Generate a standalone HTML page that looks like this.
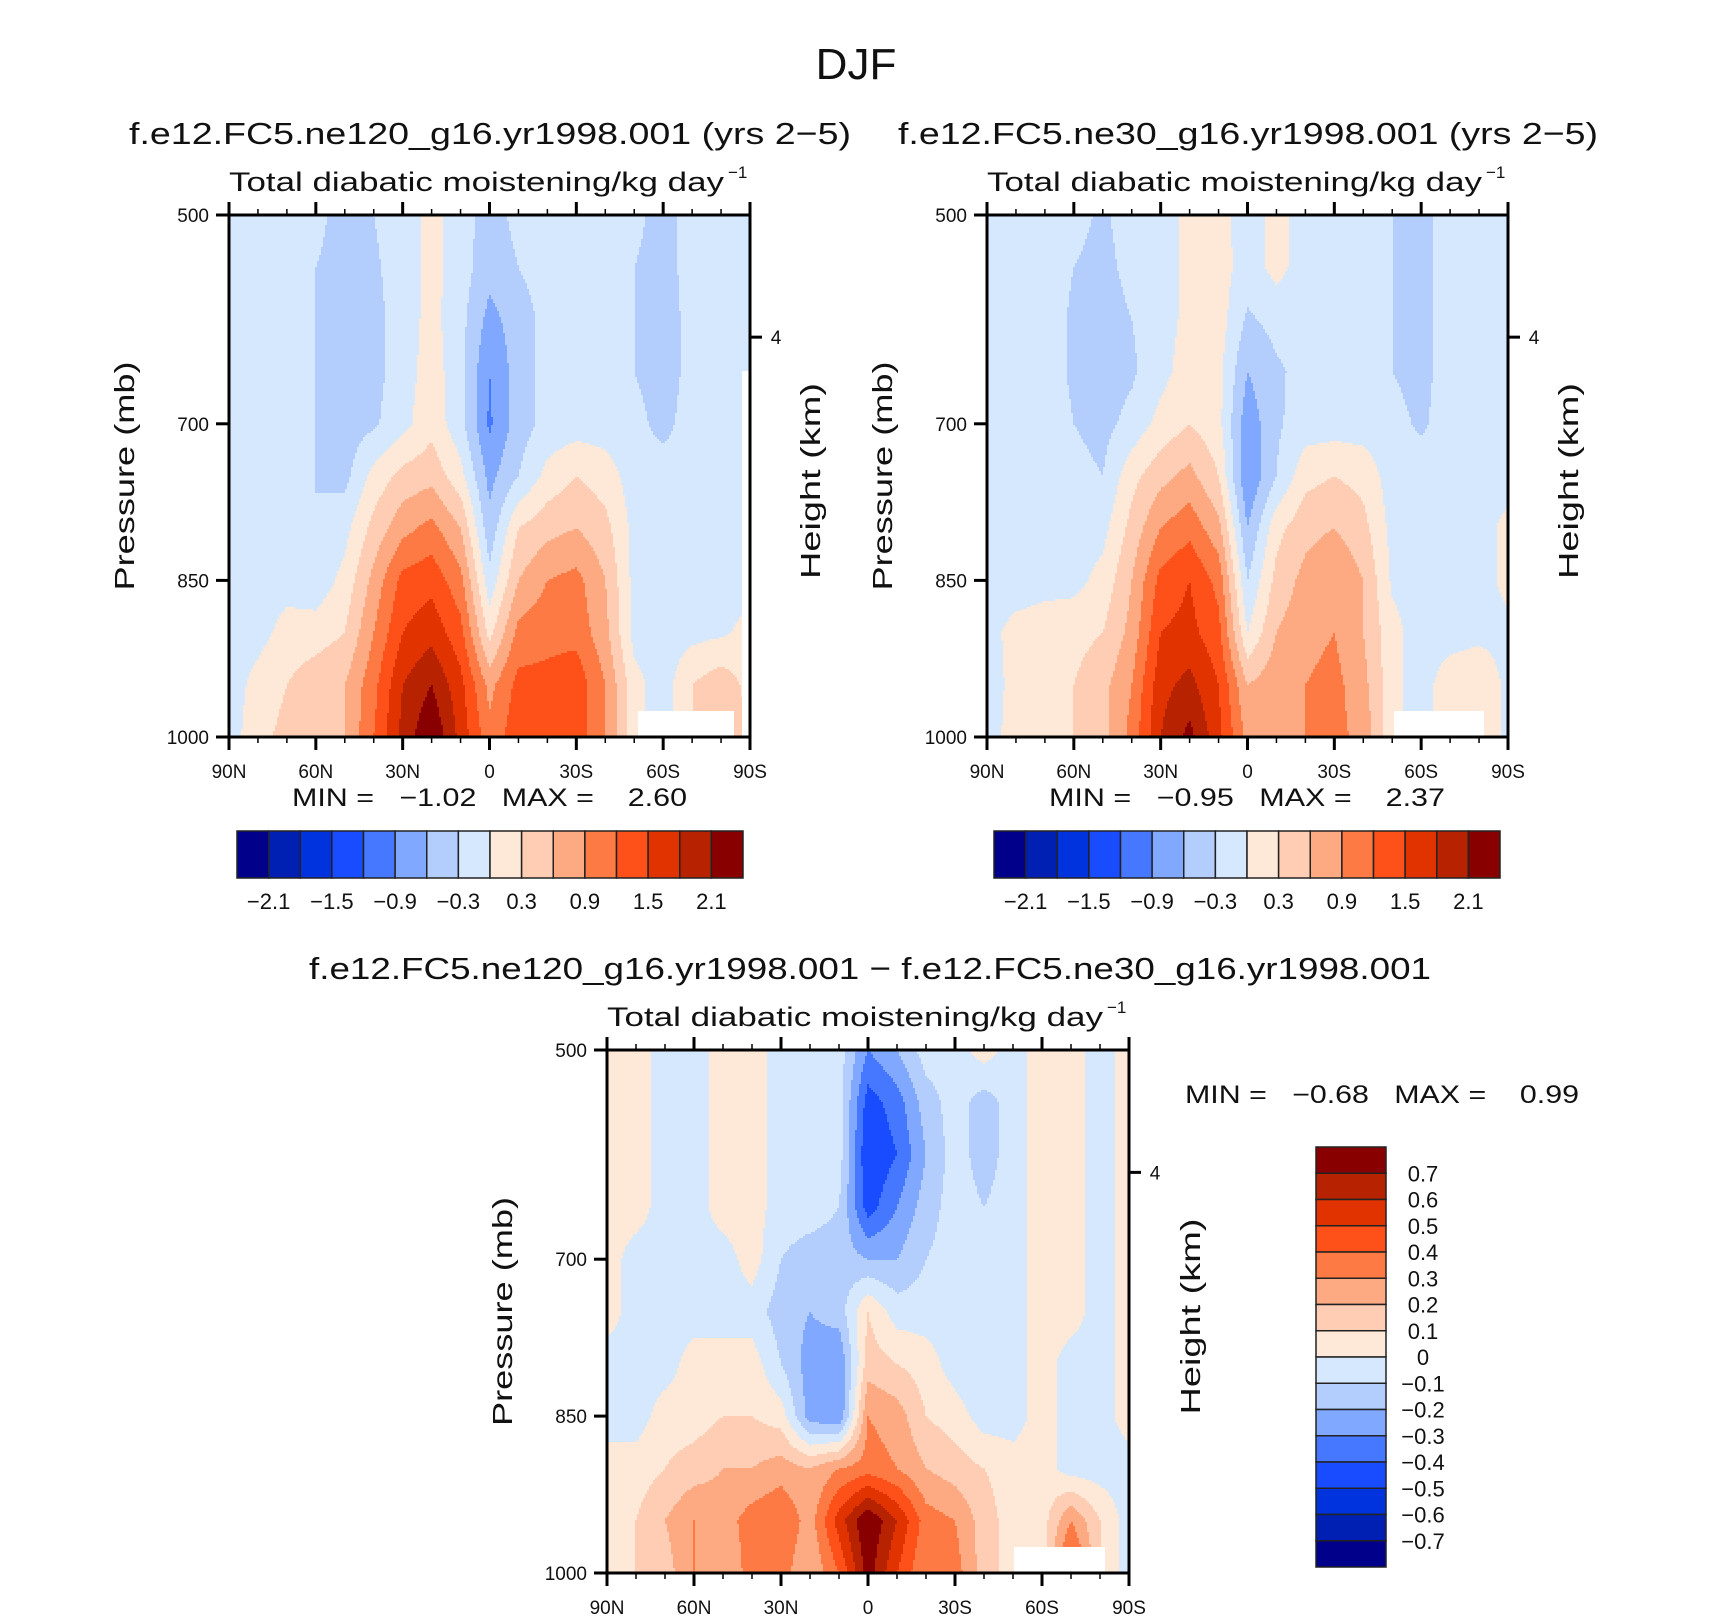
<!DOCTYPE html>
<html><head><meta charset="utf-8"><style>
html,body{margin:0;padding:0;background:#fff}
svg{display:block;font-family:"Liberation Sans",sans-serif}
text{white-space:pre}
</style></head><body>
<svg id="fig" xmlns="http://www.w3.org/2000/svg" width="1710" height="1621" viewBox="0 0 1710 1621">
<rect width="1710" height="1621" fill="#fff"/>
<text x="856" y="79" font-size="44" text-anchor="middle" fill="#111">DJF</text>
<g id="layer"></g>
</svg>
<script>
const lats=[90,80,70,60,50,40,30,20,10,0,-10,-20,-30,-40,-50,-60,-70,-80,-90];
const plevs=[500,550,600,650,700,750,800,850,900,950,1000];
const xTickLabels=['90N','60N','30N','0','30S','60S','90S'];
const pTicks=[500,700,850,1000];
const levelsAbs=[-2.1,-1.8,-1.5,-1.2,-0.9,-0.6,-0.3,0,0.3,0.6,0.9,1.2,1.5,1.8,2.1];
const absLabels=['−2.1','−1.5','−0.9','−0.3','0.3','0.9','1.5','2.1'];
const levelsDiff=[-0.7,-0.6,-0.5,-0.4,-0.3,-0.2,-0.1,0,0.1,0.2,0.3,0.4,0.5,0.6,0.7];
const diffLabels=['0.7','0.6','0.5','0.4','0.3','0.2','0.1','0','−0.1','−0.2','−0.3','−0.4','−0.5','−0.6','−0.7'];
const palette=['#00008a','#0020b4','#0033dd','#1a4cff','#4577ff','#80a8ff','#b3cdfd','#d6e8fe','#fee9d9','#fecdb4','#fda982','#fe7a45','#fe5019','#e13300','#b72200','#880000'];

const ne120=[
[-.15,-.15,-.15,-.2,-.45,-.3,-.15,.1,-.15,-.45,-.2,-.15,-.15,-.15,-.2,-.45,-.15,-.15,-.15],
[-.15,-.15,-.15,-.3,-.45,-.35,-.15,.1,-.15,-.5,-.3,-.15,-.15,-.15,-.3,-.45,-.15,-.15,-.15],
[-.15,-.15,-.15,-.3,-.45,-.4,-.15,.1,-.2,-.7,-.45,-.2,-.15,-.15,-.3,-.45,-.2,-.15,-.15],
[-.15,-.15,-.15,-.3,-.45,-.4,-.15,.15,-.2,-.9,-.45,-.2,-.15,-.15,-.3,-.45,-.2,-.15,-.15],
[-.15,-.15,-.15,-.3,-.45,-.35,-.1,.2,-.2,-.95,-.45,-.2,-.15,-.15,-.2,-.4,-.15,-.15,-.15],
[-.15,-.15,-.15,-.3,-.4,.1,.4,.5,.1,-.7,-.3,.1,.3,.15,-.15,-.15,-.15,-.15,-.05],
[-.15,-.15,-.15,-.3,-.1,.4,.8,1.0,.6,-.5,.3,.5,.6,.4,-.1,-.15,-.15,-.15,-.05],
[-.15,-.15,-.1,-.2,.1,.7,1.3,1.4,1.0,-.2,.6,.9,1.0,.6,-.1,-.15,-.15,-.15,-.1],
[-.15,-.1,.1,.15,.3,.9,1.5,1.7,1.3,.2,1.0,1.1,1.1,.7,-.1,-.15,-.1,-.05,.1],
[-.15,.1,.3,.5,.6,1.1,1.8,2.1,1.6,.8,1.3,1.3,1.4,.9,.1,-.15,.3,.5,.2],
[-.15,.2,.4,.5,.6,1.2,1.9,2.4,1.7,1.0,1.4,1.4,1.4,.9,.1,-.15,.3,.5,.3]];

const ne30=[
[-.15,-.15,-.15,-.2,-.35,-.15,-.15,.1,.1,-.15,.1,-.15,-.15,-.15,-.3,-.4,-.15,-.15,-.15],
[-.15,-.15,-.15,-.3,-.4,-.2,-.15,.1,.15,-.15,.1,-.15,-.15,-.15,-.3,-.4,-.15,-.15,-.15],
[-.15,-.15,-.15,-.35,-.45,-.3,-.15,.1,.15,-.35,-.2,-.15,-.15,-.15,-.3,-.4,-.15,-.15,-.15],
[-.15,-.15,-.15,-.35,-.45,-.35,-.1,.15,.1,-.6,-.35,-.2,-.15,-.15,-.3,-.4,-.15,-.15,-.15],
[-.15,-.15,-.15,-.3,-.4,-.2,.1,.3,.1,-.8,-.35,-.15,-.15,-.15,-.2,-.35,-.15,-.15,-.15],
[-.15,-.15,-.15,-.2,-.3,.2,.5,.7,.3,-.9,-.3,.2,.3,.2,-.15,-.15,-.15,-.15,-.15],
[-.15,-.15,-.15,-.15,-.1,.4,.9,1.1,.7,-.6,.2,.5,.6,.4,-.1,-.15,-.15,-.15,.1],
[-.15,-.15,-.1,-.1,.1,.6,1.3,1.5,1.1,-.3,.4,.7,.9,.6,-.05,-.15,-.15,-.15,.1],
[-.1,.1,.15,.2,.3,.7,1.5,1.6,1.3,0,.6,.8,.9,.6,.1,-.15,-.15,-.1,-.1],
[-.15,.1,.2,.3,.5,.9,1.7,1.9,1.5,.6,.8,.9,1.0,.7,.1,-.15,.2,.3,-.1],
[-.15,.15,.2,.3,.5,1.0,1.8,2.2,1.6,.8,.9,.9,1.0,.8,.1,-.15,.2,.3,-.1]];

const diffVals=[
[.05,.05,-.05,-.05,.05,.05,-.05,-.05,-.05,-.3,-.2,-.05,-.05,.05,-.05,.05,.05,-.05,.05],
[.05,.05,-.05,-.05,.05,.05,-.05,-.05,-.05,-.45,-.35,-.15,-.05,-.15,-.05,.05,.05,-.05,.05],
[.05,.05,-.05,-.05,.05,.05,-.05,-.05,-.05,-.5,-.4,-.2,-.05,-.15,-.05,.05,.05,-.05,.05],
[.05,.05,-.05,-.05,.05,.05,-.05,-.05,-.1,-.45,-.3,-.15,-.05,-.1,-.05,.05,.05,-.05,.05],
[.05,-.05,-.05,-.05,-.05,.05,-.1,-.15,-.15,-.2,-.2,-.1,-.05,-.1,-.05,.05,.05,-.05,.05],
[.05,-.05,-.05,-.05,-.05,-.05,-.15,-.2,-.15,.1,-.05,-.05,-.05,-.05,-.05,.05,.05,-.05,.05],
[-.05,-.05,-.05,.05,.05,.05,-.1,-.25,-.3,.15,.1,.05,-.05,-.1,-.05,.05,-.05,-.05,.05],
[-.05,-.05,.05,.05,.1,.1,.05,-.25,-.3,.3,.25,.1,.05,-.05,-.05,.05,-.05,-.05,.05],
[.05,.05,.1,.15,.2,.2,.25,.2,.3,.35,.3,.2,.15,.1,.05,.05,-.05,-.05,-.05],
[.05,.1,.2,.3,.25,.35,.4,.25,.55,.8,.6,.35,.3,.15,.05,.05,.3,.1,-.05],
[.05,.1,.15,.3,.2,.35,.35,.2,.4,.75,.5,.3,.35,.15,.05,.05,.5,.1,-.05]];

const NS='http://www.w3.org/2000/svg';
const layer=document.getElementById('layer');
function mk(tag,attrs,parent){const e=document.createElementNS(NS,tag);for(const k in attrs)e.setAttribute(k,attrs[k]);(parent||layer).appendChild(e);return e;}
function txt(s,attrs,parent){const e=mk('text',attrs,parent);e.textContent=s;return e;}

function sample(grid,lat,p){
  let fi=(p-plevs[0])/(plevs[1]-plevs[0]);fi=Math.max(0,Math.min(plevs.length-1.0001,fi));
  let fj=(lats[0]-lat)/(lats[0]-lats[1]);fj=Math.max(0,Math.min(lats.length-1.0001,fj));
  const i=Math.floor(fi),j=Math.floor(fj),ti=fi-i,tj=fj-j;
  const a=grid[i][j],b=grid[i][j+1],c=grid[i+1][j],d=grid[i+1][j+1];
  return (a*(1-tj)+b*tj)*(1-ti)+(c*(1-tj)+d*tj)*ti;
}
function levelIndex(v,levels){let k=0;while(k<levels.length&&v>=levels[k])k++;return k;}

function panel(cfg){
  const {x0,y0,w,h,grid,levels}=cfg;
  const g=mk('g',{});
  
  
  const xOf=lat=>x0+(90-lat)/180*w;
  const yOf=p=>y0+(p-500)/500*h;
  const field=mk('g',{'shape-rendering':'crispEdges'},g);
  
  
  const step=2;
  function emit(xs,xe,y,idx){
    const r=mk('rect',{x:x0+xs,y:y0+y,width:xe-xs,height:Math.min(step,h-y),fill:palette[idx]},field);
    
    
  }
  for(let y=0;y<h;y+=step){
    const p=500+(y+step/2)/h*500;
    let runStart=0,runIdx=-1;
    for(let x=0;x<w;x+=step){
      const lat=90-(x+step/2)/w*180;
      const idx=levelIndex(sample(grid,lat,p),levels);
      if(idx!==runIdx){
        if(runIdx>=0) emit(runStart,x,y,runIdx);
        runStart=x;runIdx=idx;
      }
    }
    if(runIdx>=0) emit(runStart,w,y,runIdx);
  }
  cfg.masks.forEach(m=>{
    const r=mk('rect',{x:m[0],y:m[1],width:m[2],height:m[3],fill:'#fff'},g);
    
    
  });
  const fr=mk('rect',{x:x0,y:y0,width:w,height:h,fill:'none',stroke:'#000','stroke-width':3},g);
  
  
  for(let lat=90;lat>=-90;lat-=10){
    const x=xOf(lat),maj=(lat%30===0),L=maj?13:6;
    const t1=mk('line',{x1:x,x2:x,y1:y0,y2:y0-L,stroke:'#000','stroke-width':maj?3:1.5},g);
    
    
    const t2=mk('line',{x1:x,x2:x,y1:y0+h,y2:y0+h+L,stroke:'#000','stroke-width':maj?3:1.5},g);
    
    
  }
  xTickLabels.forEach((s,k)=>{
    const t=txt(s,{x:xOf(90-30*k),y:y0+h+41,'font-size':19,'text-anchor':'middle',fill:'#111'},g);
    
    
  });
  pTicks.forEach(p=>{
    const l=mk('line',{x1:x0,x2:x0-13,y1:yOf(p),y2:yOf(p),stroke:'#000','stroke-width':3},g);
    
    
    const t=txt(String(p),{x:x0-20,y:yOf(p)+7,'font-size':19,'text-anchor':'end',fill:'#111'},g);
    
    
  });
  const hy=y0+0.234*h;
  const rl=mk('line',{x1:x0+w,x2:x0+w+12,y1:hy,y2:hy,stroke:'#000','stroke-width':3},g);
  
  
  const rt=txt('4',{x:x0+w+26,y:hy+7,'font-size':19,'text-anchor':'middle',fill:'#111'},g);
  
  
  const yt=txt('Pressure (mb)',{x:0,y:0,'font-size':28,'text-anchor':'middle',fill:'#111',transform:`translate(${x0-95},${y0+h*0.5}) rotate(-90)`,textLength:229,lengthAdjust:'spacingAndGlyphs'},g);
  
  
  const ht=txt('Height (km)',{x:0,y:0,'font-size':28,'text-anchor':'middle',fill:'#111',transform:`translate(${x0+w+cfg.hOff},${y0+h*0.5+5}) rotate(-90)`,textLength:196,lengthAdjust:'spacingAndGlyphs'},g);
  
  
  const st=txt('Total diabatic moistening/kg day',{x:x0,y:y0-24,'font-size':27,fill:'#111',textLength:w-26,lengthAdjust:'spacingAndGlyphs'},g);
  
  
  const sp=txt('−1',{x:x0+w-22,y:y0-37,'font-size':17,fill:'#111'},g);
  
  
  const tt=txt(cfg.title,{x:cfg.titleX,y:y0-71,'font-size':31,'text-anchor':'middle',fill:'#111',textLength:cfg.titleLen,lengthAdjust:'spacingAndGlyphs'},g);
  
  
}

function hColorbar(x0,y0,w,h,levels,labels,name){
  const g=mk('g',{});
  
  
  const bw=w/palette.length;
  palette.forEach((c,i)=>{
    const r=mk('rect',{x:x0+i*bw,y:y0,width:bw,height:h,fill:c,stroke:'#222','stroke-width':1.5},g);
    
    
  });
  labels.forEach((s,k)=>{
    const t=txt(s,{x:x0+(2*k+1)*bw,y:y0+h+31,'font-size':22,'text-anchor':'middle',fill:'#111'},g);
    
    
  });
}
function vColorbar(x0,y0,w,h,labels){
  const g=mk('g',{});
  
  
  const bh=h/palette.length;
  palette.slice().reverse().forEach((c,i)=>{
    const r=mk('rect',{x:x0,y:y0+i*bh,width:w,height:bh,fill:c,stroke:'#222','stroke-width':1.5},g);
    
    
  });
  labels.forEach((s,k)=>{
    const t=txt(s,{x:1423,y:y0+(k+1)*bh+8,'font-size':22,'text-anchor':'middle',fill:'#111'},g);
    
    
  });
}
function minmax(s,x,y,len,name){
  const t=txt(s,{x:x,y:y,'font-size':25,fill:'#111',textLength:len,lengthAdjust:'spacingAndGlyphs'});
  
  
}

panel({name:'panel-ne120',x0:229,y0:215,w:521,h:522,grid:ne120,levels:levelsAbs,hOff:70,
  title:'f.e12.FC5.ne120_g16.yr1998.001 (yrs 2−5)',titleX:490,titleLen:722,
  masks:[[638,711,96,25],[742,371,7,366]]});
panel({name:'panel-ne30',x0:987,y0:215,w:521,h:522,grid:ne30,levels:levelsAbs,hOff:70,
  title:'f.e12.FC5.ne30_g16.yr1998.001 (yrs 2−5)',titleX:1248,titleLen:700,
  masks:[[1394,711,90,25]]});
panel({name:'panel-difference',x0:607,y0:1050,w:522,h:523,grid:diffVals,levels:levelsDiff,hOff:71,
  title:'f.e12.FC5.ne120_g16.yr1998.001 − f.e12.FC5.ne30_g16.yr1998.001',titleX:870,titleLen:1122,
  masks:[[1014,1547,91,26]]});

minmax('MIN =   −1.02   MAX =    2.60',292,806,395,'min-max-ne120');
minmax('MIN =   −0.95   MAX =    2.37',1049,806,396,'min-max-ne30');
minmax('MIN =   −0.68   MAX =    0.99',1185,1103,394,'min-max-diff');
hColorbar(237,831,506,47,levelsAbs,absLabels,'colorbar-ne120');
hColorbar(994,831,506,47,levelsAbs,absLabels,'colorbar-ne30');
vColorbar(1316,1147,70,420,diffLabels);
</script>
</body></html>
